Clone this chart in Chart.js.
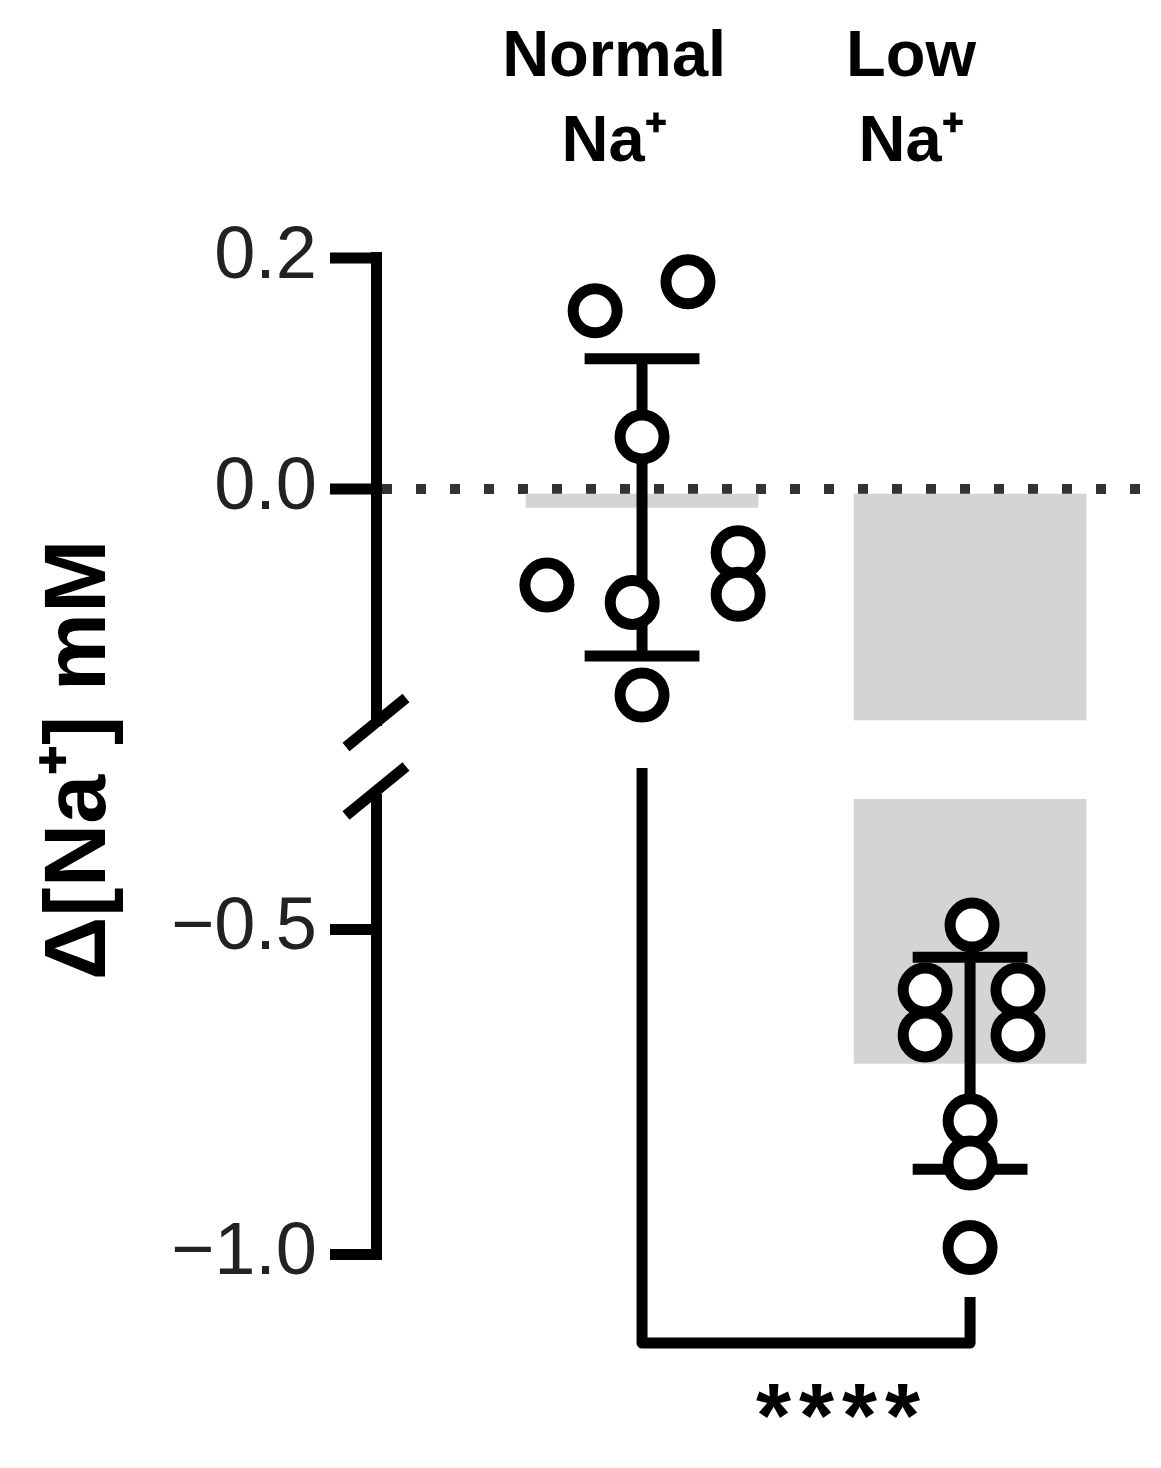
<!DOCTYPE html>
<html>
<head>
<meta charset="utf-8">
<script src="https://cdn.jsdelivr.net/npm/chart.js@4/dist/chart.umd.min.js"></script>
<style>
html,body{margin:0;padding:0;background:#fff;}
#wrap{width:1161px;height:1468px;}
</style>
</head>
<body>
<div id="wrap"><canvas id="c" width="1161" height="1468"></canvas></div>
<script>
// ---- data ----
const categories = [['Normal', 'Na\u207A'], ['Low', 'Na\u207A']];
const categoryX = [1, 2];
const normalValues = [0.154, 0.179, 0.045, -0.083, -0.055, -0.091, -0.098, -0.178];
const normalJitter = [-0.143, 0.140, 0.000, -0.290, 0.293, 0.293, -0.030, 0.000];
const lowValues = [-0.494, -0.594, -0.594, -0.663, -0.663, -0.795, -0.860, -0.990];
const lowJitter = [0.006, -0.137, 0.146, -0.137, 0.146, 0.000, 0.000, 0.000];
const topTicks = [0.2, 0.0];
const bottomTicks = [-0.5, -1.0];
const topRange = [-0.2, 0.2];
const bottomRange = [-1.0, -0.3];
const yTitle = '\u0394[Na\u207A] mM';
const significance = '****';

// ---- stats ----
const groups = [
  {values: normalValues, jitter: normalJitter},
  {values: lowValues, jitter: lowJitter}
];
const mean = a => a.reduce((s, v) => s + v, 0) / a.length;
const sd = (a, m) => Math.sqrt(a.reduce((s, v) => s + (v - m) * (v - m), 0) / (a.length - 1));
const stats = groups.map(g => { const m = mean(g.values); return {m, s: sd(g.values, m)}; });
const axisOf = v => (v >= topRange[0] ? 'yTop' : 'yBot');

// ---- style constants ----
const FONT = "'Liberation Sans', Arial, sans-serif";
const LW = 11;
const CAP = 0.175;
const LABEL_SHIFT = [-0.085, -0.18];   // header label placement relative to the group centre

// bars (split across the broken axis)
const barTopData = categoryX.map((x, i) => ({x, y: [0, Math.max(stats[i].m, topRange[0])]}));
const barBotData = categoryX
  .map((x, i) => (stats[i].m < bottomRange[1] ? {x, y: [bottomRange[1], stats[i].m]} : null))
  .filter(d => d);

// points
const ptsTop = [], ptsBot = [];
groups.forEach((g, i) => g.values.forEach((v, j) => {
  const p = {x: categoryX[i] + g.jitter[j], y: v};
  (axisOf(v) === 'yTop' ? ptsTop : ptsBot).push(p);
}));

// error bars (mean ± SD)
const errDatasets = categoryX.map((cx, i) => {
  const {m, s} = stats[i];
  return {
    type: 'line',
    yAxisID: axisOf(m),
    data: [
      {x: cx, y: m - s}, {x: cx, y: m + s}, {x: cx, y: null},
      {x: cx - CAP, y: m + s}, {x: cx + CAP, y: m + s}, {x: cx, y: null},
      {x: cx - CAP, y: m - s}, {x: cx + CAP, y: m - s}
    ],
    borderColor: '#000', borderWidth: LW, pointRadius: 0, spanGaps: false,
    fill: false, tension: 0, borderCapStyle: 'butt', order: 1, clip: false
  };
});

const fmt = v => Number(v).toFixed(1).replace('-', '\u2212');

const yCommon = {
  type: 'linear', position: 'left', stack: 'y',
  afterFit: s => { s.width = 376; },
  ticks: {callback: fmt, font: {family: FONT, size: 74}, color: '#222', padding: 13}
};

const decorations = {
  id: 'decorations',
  afterDraw(chart) {
    const {ctx, chartArea} = chart;
    const {x, yTop, yBot} = chart.scales;
    ctx.save();
    ctx.strokeStyle = '#000';
    ctx.lineWidth = LW;
    ctx.lineCap = 'butt';
    const ax = chartArea.left;
    [yTop.bottom + 2, yBot.top - 8].forEach(cy => {
      ctx.beginPath();
      ctx.moveTo(ax - 30, cy + 24.5);
      ctx.lineTo(ax + 30, cy - 24.5);
      ctx.stroke();
    });
    const x1 = x.getPixelForValue(categoryX[0]);
    const x2 = x.getPixelForValue(categoryX[1]);
    const yl = yBot.top - 31, yb = yBot.bottom + 89, yr = yBot.bottom + 43;
    ctx.lineJoin = 'round';
    ctx.beginPath();
    ctx.moveTo(x1, yl); ctx.lineTo(x1, yb); ctx.lineTo(x2, yb); ctx.lineTo(x2, yr);
    ctx.stroke();
    ctx.fillStyle = '#000';
    ctx.font = 'bold 90px ' + FONT;
    ctx.textAlign = 'center';
    ctx.textBaseline = 'alphabetic';
    try { ctx.letterSpacing = '8px'; } catch (e) {}
    ctx.fillText(significance, (x1 + x2) / 2 + 36, yb + 104);
    ctx.restore();
  }
};

new Chart(document.getElementById('c'), {
  type: 'bar',
  data: {
    datasets: [
      {type: 'scatter', yAxisID: 'yTop', data: ptsTop, pointRadius: 22, pointBorderWidth: LW,
       pointBackgroundColor: '#fff', pointBorderColor: '#000', showLine: false, order: 0, clip: false},
      {type: 'scatter', yAxisID: 'yBot', data: ptsBot, pointRadius: 22, pointBorderWidth: LW,
       pointBackgroundColor: '#fff', pointBorderColor: '#000', showLine: false, order: 0, clip: false},
      ...errDatasets,
      {type: 'bar', yAxisID: 'yTop', data: barTopData, backgroundColor: '#d4d4d4', borderWidth: 0,
       grouped: false, categoryPercentage: 1, barPercentage: 1, maxBarThickness: 232, order: 2},
      {type: 'bar', yAxisID: 'yBot', data: barBotData, backgroundColor: '#d4d4d4', borderWidth: 0,
       grouped: false, categoryPercentage: 1, barPercentage: 1, maxBarThickness: 232, order: 2}
    ]
  },
  options: {
    responsive: false,
    devicePixelRatio: 1,
    animation: false,
    events: [],
    layout: {autoPadding: false, padding: {left: 0, right: 21, top: 0, bottom: 214}},
    plugins: {legend: {display: false}, tooltip: {enabled: false}},
    scales: {
      x: {
        type: 'linear', position: 'top', min: 0.189, max: 2.518, offset: false,
        afterFit: s => { s.height = 257.5; s.paddingLeft = 0; s.paddingRight = 0; },
        afterBuildTicks: s => { s.ticks = categoryX.map((v, i) => ({value: v + LABEL_SHIFT[i]})); },
        grid: {display: false, drawTicks: false, offset: false},
        border: {display: false},
        ticks: {
          callback: (v, i) => categories[i],
          font: {family: FONT, size: 65, weight: 'bold', lineHeight: 1.31},
          color: '#000', padding: 72, maxRotation: 0, autoSkip: false
        }
      },
      yBot: Object.assign({}, yCommon, {
        stackWeight: 455, min: bottomRange[0], max: bottomRange[1],
        afterBuildTicks: s => { s.ticks = bottomTicks.map(v => ({value: v})); },
        grid: {drawOnChartArea: false, color: '#000', lineWidth: LW, tickColor: '#000', tickWidth: LW,
               tickLength: 46, drawTicks: true},
        border: {display: true, color: '#000', width: LW}
      }),
      yGap: {
        type: 'linear', position: 'left', stack: 'y', stackWeight: 78.5, min: 0, max: 1,
        afterFit: s => { s.width = 376; },
        ticks: {display: false},
        grid: {display: false, drawTicks: false},
        border: {display: false},
        title: {display: true, text: yTitle, color: '#000',
                font: {family: FONT, size: 88, weight: 'bold'}, padding: {top: 28, bottom: 0}}
      },
      yTop: Object.assign({}, yCommon, {
        stackWeight: 463, min: topRange[0], max: topRange[1], z: 1,
        afterBuildTicks: s => { s.ticks = topTicks.map(v => ({value: v})); },
        grid: {
          drawOnChartArea: true,
          color: c => (c.tick && c.tick.value === 0 ? '#333' : 'rgba(0,0,0,0)'),
          lineWidth: 10,
          tickColor: '#000', tickWidth: LW, tickLength: 46, drawTicks: true
        },
        border: {display: true, color: '#000', width: LW, dash: [10, 24]}
      })
    }
  },
  plugins: [decorations]
});
</script>
</body>
</html>
